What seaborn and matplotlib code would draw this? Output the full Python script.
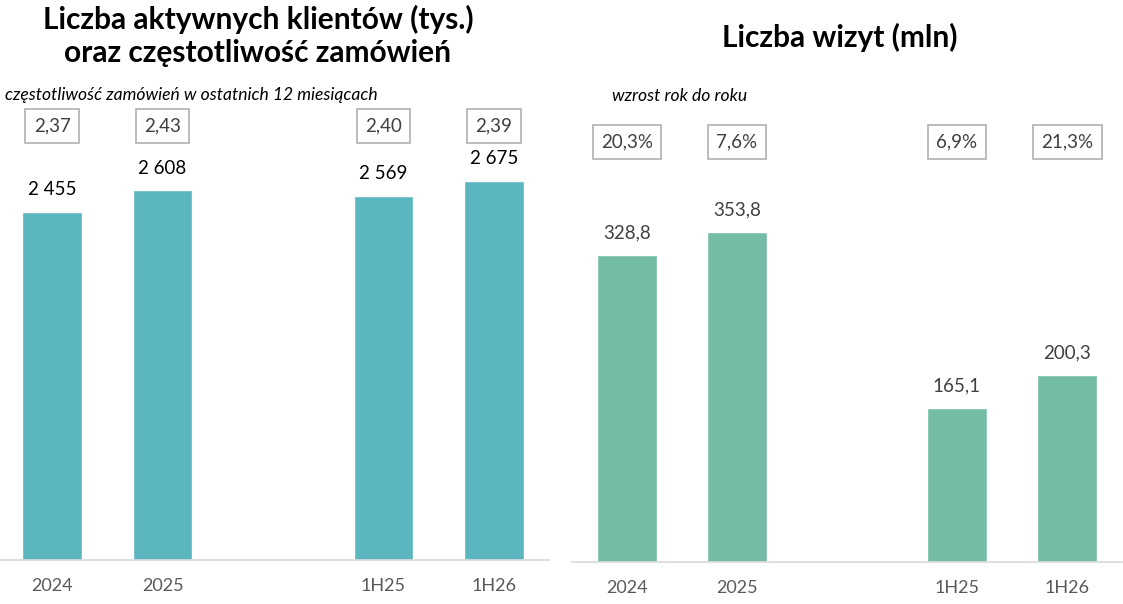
import matplotlib
matplotlib.use("Agg")
import matplotlib.pyplot as plt
import seaborn as sns
import pandas as pd

# data
categories = ["2024", "2025", "", "1H25", "1H26"]
klienci = [2455, 2608, 0, 2569, 2675]
klienci_labels = ["2 455", "2 608", "", "2 569", "2 675"]
czestotliwosc = ["2,37", "2,43", "", "2,40", "2,39"]
wizyty = [328.8, 353.8, 0, 165.1, 200.3]
wizyty_labels = ["328,8", "353,8", "", "165,1", "200,3"]
wzrost = ["20,3%", "7,6%", "", "6,9%", "21,3%"]

sns.set_theme(style="white")
plt.rcParams["font.family"] = ["Lato", "DejaVu Sans"]

W, H = 1123, 604
fig = plt.figure(figsize=(W / 100, H / 100), dpi=100)


def px_axes(x0, y_base, w, h):
    return fig.add_axes([x0 / W, (H - y_base) / H, w / W, h / H])


def draw_panel(ax, values, labels, boxes, color, ymax, lab_color, box_y):
    df = pd.DataFrame({"cat": categories, "val": values})
    sns.barplot(data=df, x="cat", y="val", color=color, width=0.54,
                saturation=1, ax=ax, order=categories)
    ax.set_ylim(0, ymax)
    ax.set_xlim(-0.5, 4.5)
    ax.set_xlabel("")
    ax.set_ylabel("")
    ax.set_yticks([])
    for s in ["top", "right", "left"]:
        ax.spines[s].set_visible(False)
    ax.spines["bottom"].set_color("#d9d9d9")
    ax.spines["bottom"].set_linewidth(1.2)
    ax.set_xticks(range(5))
    ax.set_xticklabels(categories, fontsize=13, color="#595959")
    ax.tick_params(axis="x", which="major", length=0, pad=13)
    ax.set_xticks([-0.5, 0.5, 1.5, 2.5, 3.5, 4.5], minor=True)
    ax.tick_params(axis="x", which="minor", length=8, color="#d9d9d9", width=1.2)
    off = ymax * 22 / 470
    for i, (v, lab, b) in enumerate(zip(values, labels, boxes)):
        if not lab:
            continue
        ax.text(i, v + off, lab, ha="center", va="center", fontsize=13.5,
                color=lab_color)
        ax.text(i, box_y, b, ha="center", va="center", fontsize=13.5,
                color="#404040", transform=ax.get_xaxis_transform(),
                bbox=dict(boxstyle="square,pad=0.45", fc="white",
                          ec="#b0b0b0", lw=1.2))


# left panel: klienci
ax1 = px_axes(-3, 560, 552, 470)
draw_panel(ax1, klienci, klienci_labels, czestotliwosc, "#5bb6bf",
           470 / 0.1418, "black", (560 - 126) / 470)

# right panel: wizyty
ax2 = px_axes(572, 562, 550, 470)
draw_panel(ax2, wizyty, wizyty_labels, wzrost, "#74bca6",
           470 / 0.934, "#404040", (562 - 142) / 470)

# titles
fig.text(258 / W, 1 - 36 / H, "Liczba aktywnych klientów (tys.)\noraz częstotliwość zamówień",
         ha="center", va="center", fontsize=21.5, fontweight="bold",
         linespacing=1.25, color="black")
fig.text(840 / W, 1 - 37 / H, "Liczba wizyt (mln)", ha="center", va="center",
         fontsize=21.5, fontweight="bold", color="black")
fig.text(5 / W, 1 - 95 / H, "częstotliwość zamówień w ostatnich 12 miesiącach",
         ha="left", va="center", fontsize=12.6, style="italic", color="black")
fig.text(612 / W, 1 - 96 / H, "wzrost rok do roku", ha="left", va="center",
         fontsize=12.6, style="italic", color="black")

fig.savefig("out.png", dpi=100, facecolor="white")
